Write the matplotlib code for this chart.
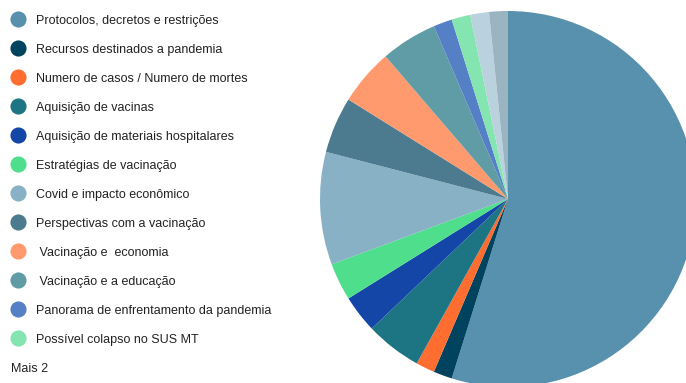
import matplotlib
matplotlib.use("Agg")
import matplotlib.pyplot as plt

plt.rcParams['font.family'] = ['Liberation Sans', 'DejaVu Sans']

labels = [
    "Protocolos, decretos e restrições",
    "Recursos destinados a pandemia",
    "Numero de casos / Numero de mortes",
    "Aquisição de vacinas",
    "Aquisição de materiais hospitalares",
    "Estratégias de vacinação",
    "Covid e impacto econômico",
    "Perspectivas com a vacinação",
    " Vacinação e  economia",
    " Vacinação e a educação",
    "Panorama de enfrentamento da pandemia",
    "Possível colapso no SUS MT",
    "Outro 1",
    "Outro 2",
]
values = [34, 1, 1, 3, 2, 2, 6, 3, 3, 3, 1, 1, 1, 1]
colors = ["#5891ae", "#00435f", "#ff6d31", "#1d7584", "#1446a8", "#4ede8c",
          "#89b1c6", "#4c7a8e", "#ff9a6e", "#609ca6", "#5680c6", "#84e5b0",
          "#b9d2de", "#9ab4c1"]
n_legend = 12
more_text = "Mais 2"

W, H = 686, 383
fig = plt.figure(figsize=(W / 100, H / 100), dpi=100)
ax = fig.add_axes([0, 0, 1, 1])

ax.pie(values, colors=colors, startangle=90, counterclock=False,
       center=(508, H - 199), radius=188,
       wedgeprops=dict(linewidth=0))

# legend
for i in range(n_legend):
    y = H - (19.3 + i * 29)
    ax.scatter([18], [y], s=135, color=colors[i], linewidths=0, zorder=5)
    ax.text(36, y - 4.7, labels[i], fontsize=9.0, color="#222222",
            va="baseline", ha="left")
ax.text(11, H - 372.5, more_text, fontsize=9.0, color="#222222",
        va="baseline", ha="left")

ax.set_xlim(0, W)
ax.set_ylim(0, H)
ax.set_aspect('auto')
ax.axis('off')

fig.savefig("out.png", dpi=100)
